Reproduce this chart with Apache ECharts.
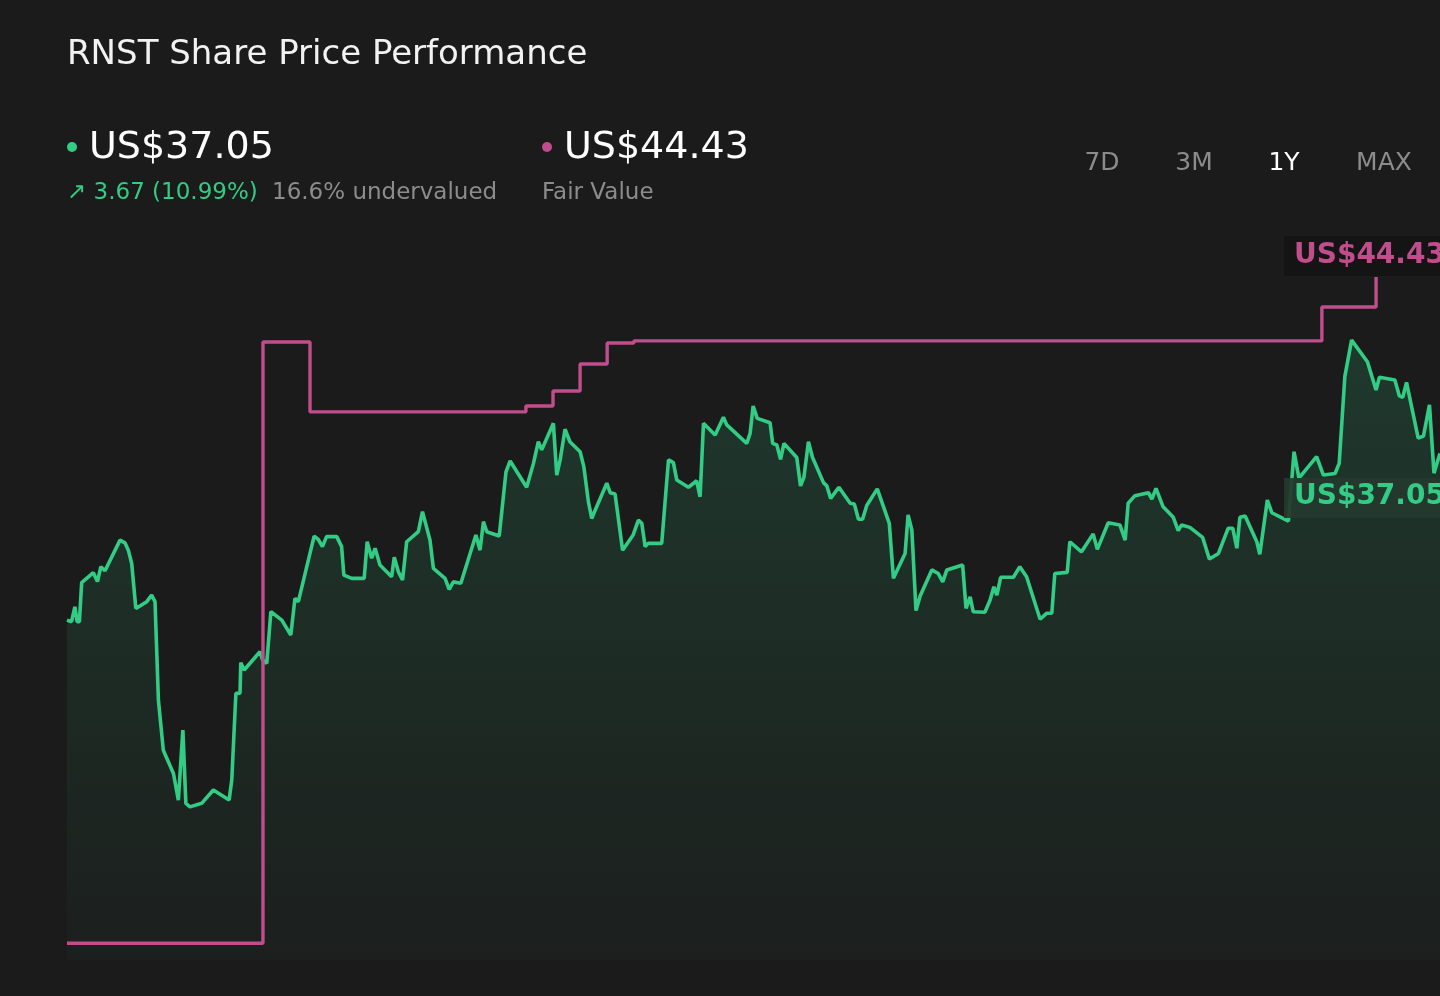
<!DOCTYPE html>
<html>
<head>
<meta charset="utf-8">
<title>RNST Share Price Performance</title>
<script src="https://cdn.jsdelivr.net/npm/echarts@6/dist/echarts.min.js"></script>
<style>
  html, body { margin: 0; padding: 0; background: #1b1b1b; }
  #chart { width: 1440px; height: 996px; }
</style>
</head>
<body>
<div id="chart"></div>
<script>
// share price, one year back (x = days from start)
var priceDays = [0, 1.2, 2.1, 2.7, 3.3, 3.9, 7.0, 8.1, 9.0, 10.1, 14.1, 15.4, 16.3, 17.2, 18.3, 21.2, 22.5, 23.4, 24.3, 25.6,
    28.3, 29.6, 30.8, 31.6, 32.7, 35.8, 38.9, 43.1, 43.8, 44.9, 46.0, 46.2, 47.1, 51.3, 52.0, 53.1, 54.2, 57.1, 59.5, 60.6,
    61.5, 65.7, 66.8, 67.9, 69.0, 71.7, 73.0, 73.6, 75.7, 79.0, 79.8, 81.0, 81.9, 83.2, 86.3, 87.0, 88.1, 89.2, 90.3, 93.4,
    94.5, 96.5, 97.4, 100.5, 101.6, 102.7, 104.7, 108.7, 109.8, 110.7, 111.6, 114.9, 116.7, 117.8, 122.2, 124.0, 125.3, 126.2, 129.3, 130.2,
    131.1, 132.4, 133.7, 136.4, 137.4, 138.6, 139.5, 140.6, 143.5, 144.4, 145.7, 147.7, 150.5, 151.9, 152.8, 153.7, 154.5, 158.1, 159.9, 161.2,
    162.1, 165.2, 167.4, 168.3, 169.2, 172.3, 174.5, 175.4, 180.7, 181.6, 182.4, 183.5, 186.9, 187.6, 188.7, 189.7, 190.6, 194.0, 195.0, 195.9,
    197.1, 198.2, 201.1, 202.0, 203.0, 205.2, 208.2, 209.3, 210.4, 211.5, 212.6, 215.4, 218.6, 219.7, 222.8, 223.6, 224.6, 225.7, 226.8, 229.9,
    231.6, 232.8, 233.9, 238.1, 239.0, 240.1, 240.9, 244.0, 245.4, 246.4, 247.2, 248.2, 251.6, 253.3, 255.1, 258.7, 260.4, 261.8, 262.6, 265.9,
    266.6, 269.7, 272.8, 273.9, 276.8, 279.9, 281.3, 282.1, 283.9, 287.5, 288.4, 289.5, 291.4, 294.1, 295.4, 296.3, 298.5, 301.9, 303.7, 306.1,
    308.7, 309.9, 311.0, 311.8, 313.2, 316.3, 317.1, 319.1, 320.3, 324.7, 326.2, 327.5, 332.2, 334.0, 337.1, 338.2, 339.7, 341.5, 345.7, 348.0,
    348.9, 353.0, 354.2, 355.1, 356.1, 359.2, 360.6, 362.2, 363.4, 365.0];
var priceValues = [31.77, 31.71, 32.26, 31.71, 31.71, 33.15, 33.52, 33.19, 33.74, 33.59, 34.72, 34.62, 34.35, 33.86, 32.20, 32.45, 32.69, 32.45, 28.82, 26.97,
    26.11, 25.13, 27.71, 25.01, 24.88, 25.01, 25.50, 25.13, 25.87, 29.07, 29.07, 30.20, 29.93, 30.60, 30.30, 30.17, 32.08, 31.77, 31.22, 32.57,
    32.45, 34.87, 34.75, 34.48, 34.85, 34.85, 34.48, 33.43, 33.31, 33.31, 34.66, 34.05, 34.42, 33.80, 33.37, 34.09, 33.55, 33.25, 34.66, 35.03,
    35.77, 34.72, 33.68, 33.31, 32.90, 33.18, 33.13, 34.91, 34.35, 35.40, 35.03, 34.87, 37.24, 37.64, 36.67, 37.55, 38.35, 38.05, 39.03, 37.12,
    37.68, 38.81, 38.35, 37.98, 37.43, 36.14, 35.52, 35.89, 36.82, 36.47, 36.42, 34.35, 34.91, 35.46, 35.34, 34.48, 34.60, 34.60, 37.68, 37.58,
    36.94, 36.67, 36.91, 36.32, 39.03, 38.60, 39.25, 38.97, 38.29, 38.66, 39.67, 39.21, 39.05, 38.29, 38.23, 37.70, 38.29, 37.77, 36.72, 37.04,
    38.35, 37.77, 36.84, 36.72, 36.26, 36.67, 36.08, 36.05, 35.49, 35.49, 36.00, 36.61, 35.34, 33.31, 34.23, 35.65, 35.09, 32.12, 32.66, 33.62,
    33.49, 33.18, 33.62, 33.80, 32.20, 32.63, 32.08, 32.06, 32.51, 33.00, 32.69, 33.35, 33.35, 33.74, 33.37, 31.80, 32.02, 32.02, 33.49, 33.53,
    34.66, 34.29, 34.95, 34.38, 35.36, 35.28, 34.72, 36.08, 36.36, 36.47, 36.23, 36.63, 35.95, 35.56, 35.07, 35.28, 35.19, 34.82, 34.02, 34.23,
    35.16, 35.16, 34.42, 35.56, 35.61, 34.66, 34.20, 36.20, 35.73, 35.42, 37.98, 37.01, 37.80, 37.12, 37.18, 37.55, 40.75, 42.10, 41.30, 40.26,
    40.73, 40.63, 40.04, 39.99, 40.54, 38.48, 38.56, 39.71, 37.19, 37.92];

// fair value estimate, changes at these days
var fairDays = [0, 52.1, 64.6, 122.0, 129.2, 136.4, 143.6, 150.7, 333.6, 348.0];
var fairValues = [19.85, 42.03, 39.45, 39.67, 40.22, 41.22, 41.99, 42.07, 43.32, 44.43];

var priceNow = 'US$37.05';
var fairNow = 'US$44.43';
var changeText = '↗ 3.67 (10.99%)';
var valuationText = '16.6% undervalued';
var ranges = ['7D', '3M', '1Y', 'MAX'];

var GREEN = '#33cc85';
var PINK = '#c24d8c';
var GREY = '#8c8c8c';
var FONT = 'DejaVu Sans';

var chart = echarts.init(document.getElementById('chart'));

var priceData = priceDays.map(function (d, i) { return [d, priceValues[i]]; });
var fairData = fairDays.map(function (d, i) { return [d, fairValues[i]]; });

var rangeX = [1102, 1194, 1284, 1384];
var rangeText = ranges.map(function (r, i) {
    return {
        type: 'text', x: rangeX[i], y: 163,
        style: {
            text: r, fill: r === '1Y' ? '#ffffff' : GREY,
            font: '25px ' + FONT, align: 'center', verticalAlign: 'middle'
        }
    };
});

var option = {
    backgroundColor: '#1b1b1b',
    animation: false,
    title: {
        text: 'RNST Share Price Performance',
        left: 67,
        top: 38,
        padding: 0,
        textStyle: { color: '#f2f2f2', fontSize: 34, fontWeight: 'normal', fontFamily: FONT }
    },
    grid: { left: 67, right: 0, top: 220, bottom: 36 },
    xAxis: { type: 'value', min: 0, max: 365, show: false },
    yAxis: { type: 'value', min: 19.23, max: 46.53, show: false, splitLine: { show: false } },
    series: [
        {
            name: 'Price',
            type: 'line',
            data: priceData,
            symbol: 'none',
            z: 2,
            lineStyle: { color: GREEN, width: 3.6 },
            areaStyle: {
                color: new echarts.graphic.LinearGradient(0, 0, 0, 1, [
                    { offset: 0, color: 'rgba(51,204,133,0.24)' },
                    { offset: 1, color: 'rgba(51,204,133,0.03)' }
                ])
            }
        },
        {
            name: 'Fair Value',
            type: 'line',
            step: 'end',
            data: fairData,
            symbol: 'none',
            z: 3,
            lineStyle: { color: PINK, width: 3.4 }
        }
    ],
    graphic: [
        { type: 'circle', shape: { cx: 72, cy: 147, r: 5 }, style: { fill: GREEN } },
        { type: 'text', x: 89, y: 148, style: { text: priceNow, fill: '#ffffff', font: '38px ' + FONT, verticalAlign: 'middle' } },
        { type: 'text', x: 67, y: 193, style: { text: changeText, fill: GREEN, font: '23px ' + FONT, verticalAlign: 'middle' } },
        { type: 'text', x: 272, y: 193, style: { text: valuationText, fill: GREY, font: '23px ' + FONT, verticalAlign: 'middle' } },
        { type: 'circle', shape: { cx: 547, cy: 147, r: 5 }, style: { fill: PINK } },
        { type: 'text', x: 564, y: 148, style: { text: fairNow, fill: '#ffffff', font: '38px ' + FONT, verticalAlign: 'middle' } },
        { type: 'text', x: 542, y: 193, style: { text: 'Fair Value', fill: GREY, font: '23px ' + FONT, verticalAlign: 'middle' } }
    ].concat(rangeText).concat([
        { type: 'rect', z: 10, shape: { x: 1284, y: 236, width: 160, height: 40 }, style: { fill: '#151415' } },
        { type: 'text', z: 11, x: 1294, y: 256, style: { text: fairNow, fill: PINK, font: 'bold 28px ' + FONT, verticalAlign: 'middle' } },
        { type: 'rect', z: 10, shape: { x: 1284, y: 478, width: 160, height: 40 }, style: { fill: 'rgba(36,58,46,0.92)' } },
        { type: 'text', z: 11, x: 1294, y: 497, style: { text: priceNow, fill: GREEN, font: 'bold 28px ' + FONT, verticalAlign: 'middle' } }
    ])
};

chart.setOption(option);
</script>
</body>
</html>
